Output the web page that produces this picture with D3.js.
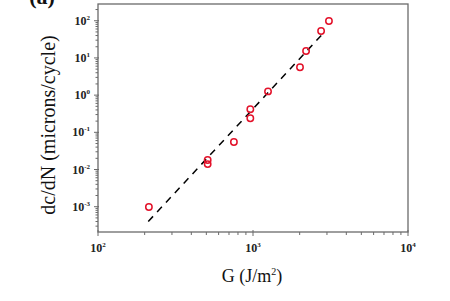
<!DOCTYPE html>
<html><head><meta charset="utf-8">
<script src="https://cdn.jsdelivr.net/npm/d3@7"></script>
<style>body{margin:0;background:#fff}svg{display:block}</style>
</head><body>
<svg id="c" width="450" height="301"></svg>
<script>
const G = [213, 510, 510, 753, 961, 961, 1250, 2010, 2200, 2750, 3090];
const dcdN = [0.00098, 0.014, 0.018, 0.055, 0.238, 0.417, 1.26, 5.6, 15.3, 52.9, 98];
const fitG = [211, 2840];
const fitRate = [0.0004, 46];
const xTickExps = [2, 3, 4];
const yTickExps = [-3, -2, -1, 0, 1, 2];

const svg = d3.select("#c");
const L = 98, R = 408, T = 4, B = 232;
const x = d3.scaleLog().domain([100, 10000]).range([L, R]);
const y = d3.scaleLog().domain([Math.pow(10, -3.68), Math.pow(10, 2.45)]).range([B, T]);

const axisCol = "#6a6a6a";
svg.append("rect").attr("x", L).attr("y", T).attr("width", R - L).attr("height", B - T)
  .attr("fill", "none").attr("stroke", axisCol).attr("stroke-width", 1.3);

const xt = x.ticks();
xt.forEach(v => {
  const major = Math.abs(Math.log10(v) - Math.round(Math.log10(v))) < 1e-9;
  svg.append("line").attr("x1", x(v)).attr("x2", x(v))
    .attr("y1", major ? B - 2 : B).attr("y2", B + (major ? 4 : 3))
    .attr("stroke", axisCol).attr("stroke-width", 1);
});
const yt = y.ticks();
yt.forEach(v => {
  const major = Math.abs(Math.log10(v) - Math.round(Math.log10(v))) < 1e-9;
  svg.append("line").attr("y1", y(v)).attr("y2", y(v))
    .attr("x1", L - (major ? 4 : 2.5)).attr("x2", major ? L + 1 : L)
    .attr("stroke", axisCol).attr("stroke-width", 1);
});

const tickFont = "Liberation Serif, DejaVu Serif, serif";
xTickExps.forEach(e => {
  const t = svg.append("text").attr("x", x(Math.pow(10, e))).attr("y", 252)
    .attr("text-anchor", "middle").attr("font-family", tickFont).attr("font-weight", "bold")
    .attr("font-size", 12).attr("fill", "#222");
  t.append("tspan").text("10");
  t.append("tspan").attr("dy", -5).attr("font-size", 7).text(e);
});
yTickExps.forEach(e => {
  const t = svg.append("text").attr("x", 90).attr("y", y(Math.pow(10, e)) + 4)
    .attr("text-anchor", "end").attr("font-family", tickFont).attr("font-weight", "bold")
    .attr("font-size", 12).attr("fill", "#222");
  t.append("tspan").text("10");
  t.append("tspan").attr("dy", -5).attr("font-size", 7).text(e);
});

svg.append("line").attr("x1", x(fitG[0])).attr("y1", y(fitRate[0]))
  .attr("x2", x(fitG[1])).attr("y2", y(fitRate[1]))
  .attr("stroke", "#000").attr("stroke-width", 1.5).attr("stroke-dasharray", "7,6");

svg.selectAll("circle.p").data(G).enter().append("circle")
  .attr("cx", (d) => x(d)).attr("cy", (d, i) => y(dcdN[i])).attr("r", 3.2)
  .attr("fill", "none").attr("stroke", "#e3122a").attr("stroke-width", 1.5);

const labFont = "Liberation Serif, Times New Roman, serif";
svg.append("text").attr("x", 252).attr("y", 282).attr("text-anchor", "middle")
  .attr("font-family", labFont).attr("font-size", 18).attr("fill", "#111")
  .call(t => {
    t.append("tspan").text("G (J/m");
    t.append("tspan").attr("dy", -7).attr("font-size", 10).text("2");
    t.append("tspan").attr("dy", 7).text(")");
  });
svg.append("text").attr("transform", "translate(55,125) rotate(-90)").attr("text-anchor", "middle")
  .attr("font-family", labFont).attr("font-size", 20).attr("fill", "#111")
  .text("dc/dN (microns/cycle)");
svg.append("text").attr("x", 42).attr("y", 4).attr("text-anchor", "middle")
  .attr("font-family", labFont).attr("font-weight", "bold").attr("font-size", 22).attr("fill", "#111")
  .text("(a)");
</script>
</body></html>
